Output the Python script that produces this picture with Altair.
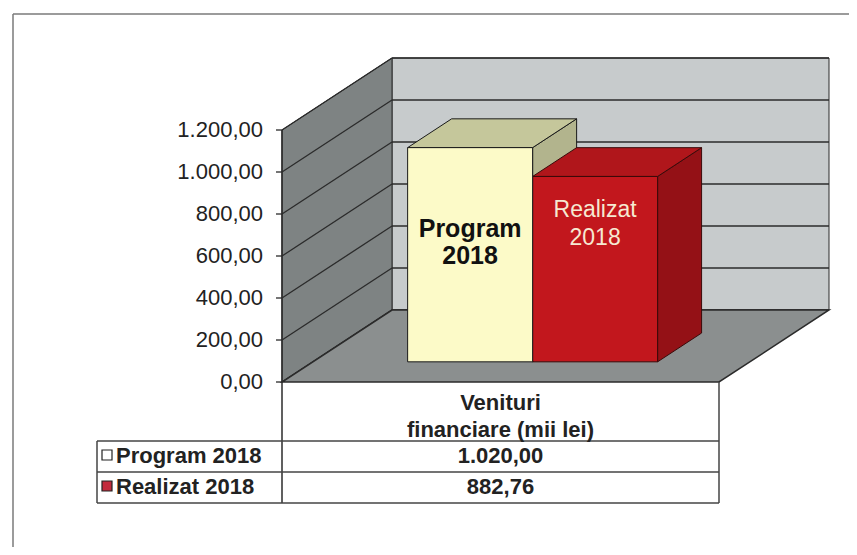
import altair as alt
import pandas as pd

# ---------------- data ----------------
CATEGORY_LINES = ["Venituri", "financiare (mii lei)"]
SERIES = ["Program 2018", "Realizat 2018"]
VALUES = [1020.00, 882.76]
VALUE_LABELS = ["1.020,00", "882,76"]
TICKS = [0, 200, 400, 600, 800, 1000, 1200]
TICK_LABELS = ["0,00", "200,00", "400,00", "600,00", "800,00", "1.000,00", "1.200,00"]
BAR_TEXT = [["Program", "2018"], ["Realizat", "2018"]]

# ---------------- style ----------------
FRONT = ["#fcfac8", "#c2171d"]
TOP = ["#c5c79b", "#b0161b"]
SIDE = ["#b2b48d", "#941116"]
EDGE = ["#1a1a1a", "#3a0a0a"]
BAR_TEXT_COLOR = ["#111111", "#f6e9d2"]
BAR_TEXT_WEIGHT = ["bold", "normal"]
BAR_TEXT_SIZE = [25, 23]
LEGEND_FILL = ["#ffffff", "#c22a3c"]
WALL_BACK = "#c7cbcc"
WALL_SIDE = "#7e8383"
FLOOR = "#8b8f8f"
GRID = "#2b2b2b"
INK = "#222222"
TABLE_LINE = "#444444"
FRAME = "#7a7a7a"
FONT = "Liberation Sans"
AXIS_FONT_SIZE = 22
TABLE_FONT_SIZE = 22

# ---------------- layout (page pixels) ----------------
W, H = 841, 539
ORIGIN = 8
AXIS_X = 282            # page x of value axis (front plane, u = 0)
BAND = 437              # page px of category band (u 0..1)
ZERO_Y = 382            # page y of value 0 on front plane
PX_PER_VALUE = 252 / 1200
DEPTH_PX = (110, 72)    # projection of full depth
BAR_U = [(0.217, 0.503), (0.503, 0.789)]
D0, D1 = 0.28, 0.68     # bar depth span
LABEL_BASE_PX = [89, 41]   # first-line baseline below the bar's front top
LINE_GAP_PX = [27, 28]


def ux(px):
    return (px - AXIS_X) / BAND


def vy(py):
    return (ZERO_Y - py) / PX_PER_VALUE


XDOM = [ux(ORIGIN), ux(ORIGIN + W)]
YDOM = [vy(ORIGIN + H), vy(ORIGIN)]
DX = DEPTH_PX[0] / BAND
DY = DEPTH_PX[1] / PX_PER_VALUE
TMAX = max(TICKS)

xs = alt.Scale(domain=XDOM, nice=False, zero=False)
ys = alt.Scale(domain=YDOM, nice=False, zero=False)


def X(f="x"):
    return alt.X(f"{f}:Q", scale=xs, axis=None)


def Y(f="y"):
    return alt.Y(f"{f}:Q", scale=ys, axis=None, stack=None)


def df(rows):
    return pd.DataFrame(rows)


layers = []

# back wall
layers.append(
    alt.Chart(df([{"x": DX, "x2": 1 + DX, "y": DY, "y2": TMAX + DY}]))
    .mark_rect(fill=WALL_BACK, stroke=GRID, strokeWidth=1)
    .encode(x=X(), x2="x2", y=Y(), y2="y2")
)
layers.append(
    alt.Chart(df([{"x": DX, "x2": 1 + DX, "y": t + DY} for t in TICKS]))
    .mark_rule(color=GRID, strokeWidth=1.3)
    .encode(x=X(), x2="x2", y=Y())
)
# left wall
layers.append(
    alt.Chart(df([{"x": 0, "y": 0, "y2": TMAX}, {"x": DX, "y": DY, "y2": TMAX + DY}]))
    .mark_area(orient="vertical", fill=WALL_SIDE, stroke=GRID, strokeWidth=1)
    .encode(x=X(), y=Y(), y2="y2")
)
layers.append(
    alt.Chart(df([{"x": 0, "y": t, "x2": DX, "y2": t + DY} for t in TICKS]))
    .mark_rule(color=GRID, strokeWidth=1.3)
    .encode(x=X(), y=Y(), x2="x2", y2="y2")
)
# floor
layers.append(
    alt.Chart(df([{"y": 0, "x": 0, "x2": 1}, {"y": DY, "x": DX, "x2": 1 + DX}]))
    .mark_area(orient="horizontal", fill=FLOOR, stroke=GRID, strokeWidth=1.5)
    .encode(y=Y(), x=alt.X("x:Q", scale=xs, axis=None, stack=None), x2="x2")
)


def side_face(i):
    u0, u1 = BAR_U[i]
    v = VALUES[i]
    rows = [{"x": u1 + DX * d, "y": DY * d, "y2": v + DY * d} for d in (D0, D1)]
    return (
        alt.Chart(df(rows))
        .mark_area(orient="vertical", fill=SIDE[i], stroke=EDGE[i], strokeWidth=1)
        .encode(x=X(), y=Y(), y2="y2")
    )


def top_face(i):
    u0, u1 = BAR_U[i]
    v = VALUES[i]
    rows = [{"y": v + DY * d, "x": u0 + DX * d, "x2": u1 + DX * d} for d in (D0, D1)]
    return (
        alt.Chart(df(rows))
        .mark_area(orient="horizontal", fill=TOP[i], stroke=EDGE[i], strokeWidth=1)
        .encode(y=Y(), x=alt.X("x:Q", scale=xs, axis=None, stack=None), x2="x2")
    )


def front_face(i):
    u0, u1 = BAR_U[i]
    v = VALUES[i]
    rows = [{"x": u0 + DX * D0, "x2": u1 + DX * D0, "y": DY * D0, "y2": v + DY * D0}]
    return (
        alt.Chart(df(rows))
        .mark_rect(fill=FRONT[i], stroke=EDGE[i], strokeWidth=1)
        .encode(x=X(), x2="x2", y=Y(), y2="y2")
    )


def bar_text(i):
    u0, u1 = BAR_U[i]
    v = VALUES[i]
    top_v = v + DY * D0
    rows = []
    for k, line in enumerate(BAR_TEXT[i]):
        rows.append({
            "x": (u0 + u1) / 2 + DX * D0,
            "y": top_v - (LABEL_BASE_PX[i] + k * LINE_GAP_PX[i]) / PX_PER_VALUE,
            "t": line,
        })
    return (
        alt.Chart(df(rows))
        .mark_text(font=FONT, fontSize=BAR_TEXT_SIZE[i], fontWeight=BAR_TEXT_WEIGHT[i],
                   color=BAR_TEXT_COLOR[i], align="center", baseline="alphabetic")
        .encode(x=X(), y=Y(), text="t:N")
    )


n = len(VALUES)
for i in range(n):
    layers.append(side_face(i))
for i in reversed(range(n)):
    layers.append(top_face(i))
    layers.append(front_face(i))
for i in range(n):
    layers.append(bar_text(i))

# value axis (front-left edge, continuing as table divider)
TABLE_TOP, ROW1, TABLE_BOTTOM = 441, 472, 503
TABLE_LEFT = 97
layers.append(
    alt.Chart(df([{"x": 0, "y": vy(TABLE_BOTTOM), "y2": TMAX}]))
    .mark_rule(color=GRID, strokeWidth=1.5)
    .encode(x=X(), y=Y(), y2="y2")
)
layers.append(
    alt.Chart(df([{"x": ux(AXIS_X - 6), "x2": 0, "y": t} for t in TICKS]))
    .mark_rule(color=GRID, strokeWidth=1.3)
    .encode(x=X(), x2="x2", y=Y())
)
layers.append(
    alt.Chart(df([{"x": 0, "y": t, "t": s} for t, s in zip(TICKS, TICK_LABELS)]))
    .mark_text(font=FONT, fontSize=AXIS_FONT_SIZE, color=INK, align="right", baseline="middle", dx=-19)
    .encode(x=X(), y=Y(), text="t:N")
)

# data table
h_lines = [{"x": ux(TABLE_LEFT), "x2": 1, "y": vy(p)} for p in (TABLE_TOP, ROW1, TABLE_BOTTOM)]
layers.append(
    alt.Chart(df(h_lines)).mark_rule(color=TABLE_LINE, strokeWidth=1.5)
    .encode(x=X(), x2="x2", y=Y())
)
v_lines = [
    {"x": ux(TABLE_LEFT), "y": vy(TABLE_TOP), "y2": vy(TABLE_BOTTOM)},
    {"x": 1, "y": 0, "y2": vy(TABLE_BOTTOM)},
]
layers.append(
    alt.Chart(df(v_lines)).mark_rule(color=TABLE_LINE, strokeWidth=1.5)
    .encode(x=X(), y=Y(), y2="y2")
)
header_rows = [{"x": 0.5, "y": vy(p), "t": s} for p, s in zip((410, 437), CATEGORY_LINES)]
layers.append(
    alt.Chart(df(header_rows))
    .mark_text(font=FONT, fontSize=TABLE_FONT_SIZE, fontWeight="bold", color=INK, align="center", baseline="alphabetic")
    .encode(x=X(), y=Y(), text="t:N")
)
ROW_BASE = [463, 494]
value_rows = [{"x": 0.5, "y": vy(p), "t": s} for p, s in zip(ROW_BASE, VALUE_LABELS)]
layers.append(
    alt.Chart(df(value_rows))
    .mark_text(font=FONT, fontSize=TABLE_FONT_SIZE, fontWeight="bold", color=INK, align="center", baseline="alphabetic")
    .encode(x=X(), y=Y(), text="t:N")
)
name_rows = [{"x": ux(116), "y": vy(p), "t": s} for p, s in zip(ROW_BASE, SERIES)]
layers.append(
    alt.Chart(df(name_rows))
    .mark_text(font=FONT, fontSize=TABLE_FONT_SIZE, fontWeight="bold", color=INK, align="left", baseline="alphabetic")
    .encode(x=X(), y=Y(), text="t:N")
)
legend_rows = [{"x": ux(107), "y": vy(p - 8), "f": c} for p, c in zip(ROW_BASE, LEGEND_FILL)]
layers.append(
    alt.Chart(df(legend_rows))
    .mark_square(size=100, filled=True, stroke="#222222", strokeWidth=1.2, opacity=1)
    .encode(x=X(), y=Y(), fill=alt.Fill("f:N", scale=None, legend=None))
)

# outer frame
frame = [
    {"x": ux(13), "x2": XDOM[1], "y": vy(14), "y2": vy(14)},
    {"x": ux(13), "x2": ux(13), "y": vy(14), "y2": YDOM[0]},
]
layers.append(
    alt.Chart(df(frame)).mark_rule(color=FRAME, strokeWidth=1.5)
    .encode(x=X(), x2="x2", y=Y(), y2="y2")
)

chart = (
    alt.layer(*layers)
    .properties(width=W, height=H, padding=0, autosize=alt.AutoSizeParams(type="none"), background="white")
    .configure_view(strokeWidth=0)
)

chart.save("out.html", embed_options={"renderer": "svg", "actions": False})
